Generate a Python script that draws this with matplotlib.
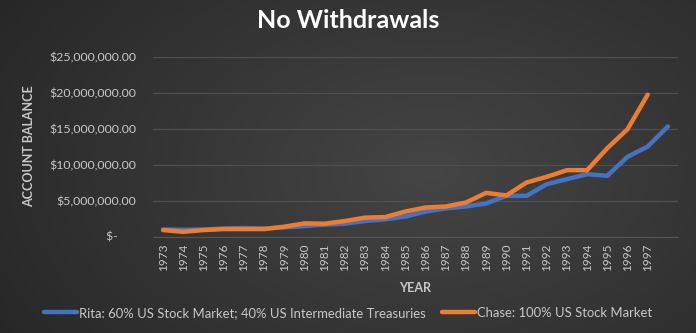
import numpy as np
import matplotlib.pyplot as plt
from matplotlib.ticker import FuncFormatter

years = [str(y) for y in range(1973, 1998)] + [""]
rita = [0.98, 0.93, 0.98, 1.12, 1.17, 1.12, 1.26, 1.45, 1.64, 1.78, 2.15, 2.38, 2.78,
        3.47, 3.90, 4.17, 4.58, 5.65, 5.65, 7.27, 7.96, 8.66, 8.43, 11.07, 12.50, 15.28]
chase = [0.89, 0.65, 0.89, 1.03, 1.03, 1.03, 1.36, 1.82, 1.78, 2.15, 2.62, 2.70, 3.47,
         4.03, 4.17, 4.72, 6.06, 5.70, 7.50, 8.29, 9.21, 9.21, 12.27, 14.90, 19.70]
rita = [v * 1e6 for v in rita]
chase = [v * 1e6 for v in chase]

plt.rcParams['font.family'] = ['Lato', 'DejaVu Sans']
txt = "#c8c8c8"

fig = plt.figure(figsize=(6.96, 3.33), dpi=100)

# dark radial background
bg = fig.add_axes([0, 0, 1, 1], zorder=-10)
yy, xx = np.mgrid[0:333, 0:696]
r = np.sqrt(((xx - 430) / 520.0) ** 2 + ((yy - 170) / 330.0) ** 2)
shade = np.clip(0.27 - 0.12 * r, 0.14, 0.27)
bg.imshow(np.dstack([shade] * 3), aspect="auto", extent=[0, 1, 0, 1])
bg.axis("off")

ax = fig.add_axes([153 / 696, 1 - 236.5 / 333, 525 / 696, 180 / 333])
ax.set_facecolor("none")
x = np.arange(len(years))
ax.plot(x[:len(rita)], rita, color="#4472C4", lw=3.2, solid_capstyle="round",
        label="Rita: 60% US Stock Market; 40% US Intermediate Treasuries", zorder=3)
ax.plot(x[:len(chase)], chase, color="#ED7D31", lw=3.2, solid_capstyle="round",
        label="Chase: 100% US Stock Market", zorder=4)

ax.set_xlim(-0.5, len(years) - 0.5)
ax.set_ylim(0, 25e6)
ax.set_yticks(np.arange(0, 25e6 + 1, 5e6))
ax.yaxis.set_major_formatter(FuncFormatter(lambda v, p: "$-      " if v == 0 else f"${v:,.2f}"))
ax.set_xticks(x)
ax.set_xticklabels(years, rotation=90, fontsize=8.5, color=txt)
ax.tick_params(axis="y", labelsize=8.9, colors=txt, length=0, pad=12)
ax.tick_params(axis="x", length=0, pad=5)
ax.grid(axis="y", color="#4f4f4f", lw=0.9)
ax.set_axisbelow(True)
for s in ["top", "right", "left"]:
    ax.spines[s].set_visible(False)
ax.spines["bottom"].set_color("#555555")

ax.set_ylabel("ACCOUNT BALANCE", fontsize=9, fontweight="bold", color=txt, labelpad=10)
ax.set_xlabel("YEAR", fontsize=9, fontweight="bold", color=txt, labelpad=8)
fig.text(0.5, 1 - 21 / 333, "No Withdrawals", ha="center", va="center",
         fontsize=18, fontweight="bold", color="white")

leg = fig.legend(loc="center", bbox_to_anchor=(0.5, 1 - 313 / 333), ncol=2, frameon=False,
                 fontsize=9.4, handlelength=2.5, handletextpad=0.15, columnspacing=1.3)
for t in leg.get_texts():
    t.set_color(txt)

fig.savefig("out.png", dpi=100, facecolor="#2b2b2b")
